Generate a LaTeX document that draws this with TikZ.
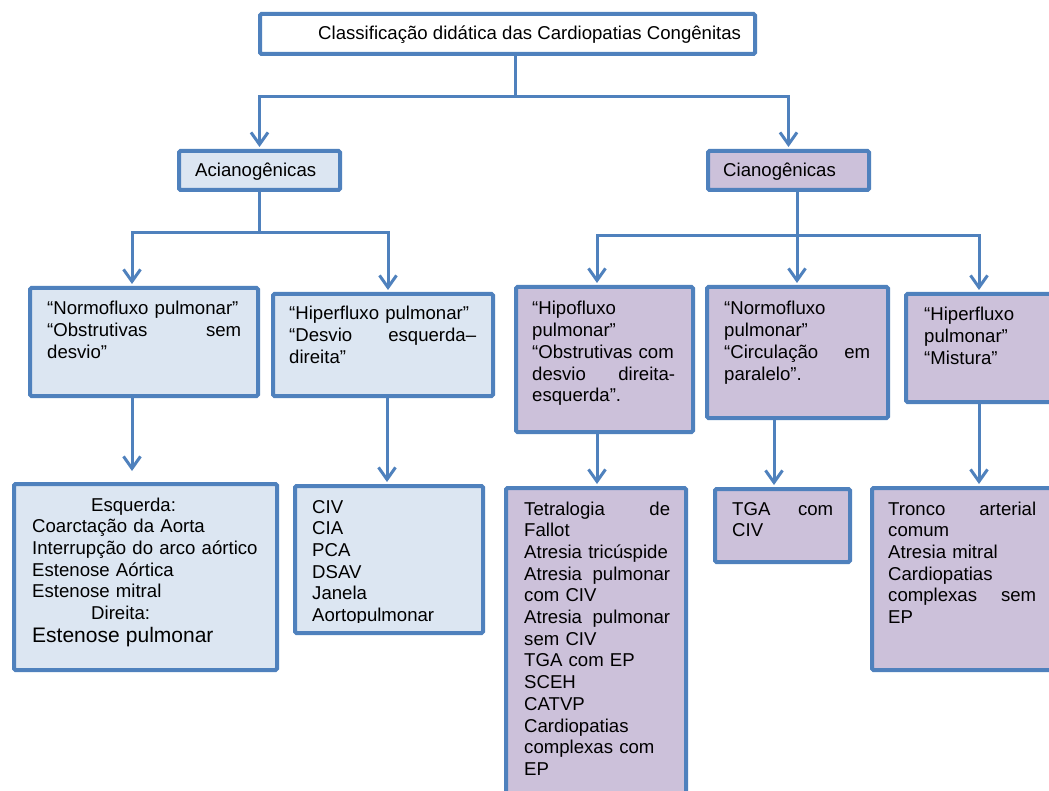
\documentclass[tikz,border=0pt]{standalone}
\usepackage{fontspec}
\setmainfont{Liberation Sans}
\usetikzlibrary{arrows.meta}
\definecolor{edge}{RGB}{79,129,189}
\definecolor{paleblue}{RGB}{220,230,242}
\definecolor{lilac}{RGB}{204,193,218}

\begin{document}
\begin{tikzpicture}[x=1pt,y=-1pt,
  frame/.style={draw=edge, line width=4pt, inner sep=0pt, rounded corners=1.5pt},
  acy/.style={frame, fill=paleblue},
  cya/.style={frame, fill=lilac},
  conn/.style={draw=edge, line width=3pt},
  arr/.style={conn, shorten >=2pt, -{Straight Barb[length=12pt,width=17pt,line width=3pt]}},
  txt/.style={inner sep=0pt, anchor=base west, align=left,
              font=\fontsize{18.6}{21.7}\selectfont}
]
\clip (0,0) rectangle (1049,791);
\fill[white] (0,0) rectangle (1049,791);

% boxes
\node[frame, fill=white, minimum width=495pt, minimum height=40pt] (title) at (507.5,34) {};
\node[acy, minimum width=161pt, minimum height=39pt] (acian) at (259.5,170.5) {};
\node[cya, minimum width=161pt, minimum height=39pt] (cian) at (788.5,170.5) {};

\node[acy, minimum width=228pt, minimum height=108pt] (A1) at (144,342) {};
\node[acy, minimum width=220pt, minimum height=102pt] (A2) at (383,345) {};
\node[cya, minimum width=177pt, minimum height=145pt] (C1) at (604.5,359.5) {};
\node[cya, minimum width=181pt, minimum height=131pt] (C2) at (797.5,352.5) {};
\node[cya, minimum width=162pt, minimum height=108pt] (C3) at (987,348) {};

\node[acy, minimum width=263pt, minimum height=186pt] (B1) at (145.5,577) {};
\node[acy, minimum width=188pt, minimum height=147pt] (B2) at (389,559.5) {};
\node[cya, minimum width=180pt, minimum height=330pt] (D1) at (596,653) {};
\node[cya, minimum width=135pt, minimum height=73pt] (D2) at (782.5,525.5) {};
\node[cya, minimum width=196pt, minimum height=182pt] (D3) at (970,579) {};

% texts
\node[txt] (tTitle) at (318,40) {Classificação didática das Cardiopatias Congênitas};
\node[txt] (tAcian) at (195,177) {Acianogênicas};
\node[txt] (tCian) at (723,177) {Cianogênicas};

\node[txt, text width=194pt] (tA1) at (47,315)
  {“Normofluxo pulmonar”\\“Obstrutivas\hfill sem\\desvio”};
\node[txt, text width=187pt] (tA2) at (289,320)
  {“Hiperfluxo pulmonar”\\“Desvio\hfill esquerda–\\direita”};
\node[txt, text width=143pt] (tC1) at (532,315)
  {“Hipofluxo\\pulmonar”\\“Obstrutivas com\\desvio\hfill direita-\\esquerda”.};
\node[txt, text width=146pt] (tC2) at (724,315)
  {“Normofluxo\\pulmonar”\\“Circulação\hfill em\\paralelo”.};
\node[txt, text width=120pt] (tC3) at (924,321)
  {“Hiperfluxo\\pulmonar”\\“Mistura”};

\node[txt, text width=240pt] (tB1) at (32,511)
  {\hspace*{59pt}Esquerda:\\Coarctação da Aorta\\Interrupção do arco aórtico\\Estenose Aórtica\\Estenose mitral\\\hspace*{59pt}Direita:\\[1.3pt]{\fontsize{21}{24}\selectfont Estenose pulmonar}};
% the last line of this list is cut off at the text area's lower edge
\begin{scope}
  \clip (295,486) rectangle (483,622);
  \node[txt, text width=160pt] (tB2) at (312,513)
    {CIV\\CIA\\PCA\\DSAV\\Janela\\Aortopulmonar};
\end{scope}
\node[txt, text width=146pt] (tD1) at (524,515)
  {Tetralogia\hfill de\\Fallot\\Atresia tricúspide\\Atresia\hfill pulmonar\\com CIV\\Atresia\hfill pulmonar\\sem CIV\\TGA com EP\\SCEH\\CATVP\\Cardiopatias\\complexas com\\EP};
\node[txt, text width=101pt] (tD2) at (732,515) {TGA\hfill com\\CIV};
\node[txt, text width=148pt] (tD3) at (888,515)
  {Tronco\hfill arterial\\comum\\Atresia mitral\\Cardiopatias\\complexas\hfill sem\\EP};

% connectors: top level
\coordinate (b0) at (515,97);
\draw[conn] (title.south -| b0) -- (b0);
\draw[arr] (b0) -| (acian.north);
\draw[arr] (b0) -| (cian.north);

% acyanotic branch
\coordinate (b1) at (259.5,233);
\path ([xshift=-12pt]A1.north) coordinate (a1n) ([xshift=5pt]A2.north) coordinate (a2n);
\draw[conn] (acian.south) -- (b1);
\draw[arr] (b1) -| (a1n);
\draw[arr] (b1) -| (a2n);

% cyanotic branch
\coordinate (b2) at (797,236);
\path ([xshift=-7.5pt]C1.north) coordinate (c1n) ([xshift=-8pt]C3.north) coordinate (c3n);
\draw[conn] (cian.south -| b2) -- (b2);
\draw[arr] (b2) -| (c1n);
\draw[arr] (b2) -- (b2 |- C2.north);
\draw[arr] (b2) -| (c3n);

% lower arrows
\path ([xshift=-12pt]A1.south) coordinate (a1s)
      ([xshift=4pt]A2.south) coordinate (a2s)
      ([xshift=-7.5pt]C1.south) coordinate (c1s)
      ([xshift=-23.5pt]C2.south) coordinate (c2s)
      ([xshift=-8pt]C3.south) coordinate (c3s);
\draw[arr, shorten >=11pt] (a1s) -- (a1s |- B1.north);
\draw[arr] (a2s) -- (a2s |- B2.north);
\draw[arr] (c1s) -- (c1s |- D1.north);
\draw[arr] (c2s) -- (c2s |- D2.north);
\draw[arr] (c3s) -- (c3s |- D3.north);
\end{tikzpicture}
\end{document}
